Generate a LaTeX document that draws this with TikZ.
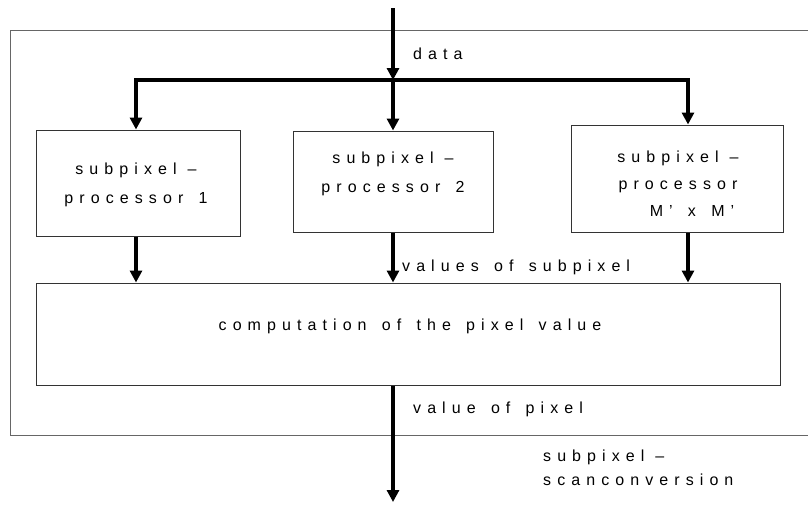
\documentclass[tikz,border=0pt]{standalone}
\usepackage{fontspec}
\setmainfont{Liberation Sans}[LetterSpace=38,WordSpace=1.45]
\usetikzlibrary{arrows.meta}
\newcommand{\dashgap}{\hspace*{11pt}–}
\tikzset{
  box/.style={draw=black!80,line width=1pt,minimum width=#1,inner sep=0pt},
  lbl/.style={align=center,inner sep=0pt,font=\fontsize{16}{29}\selectfont},
  flow/.style={line width=4pt,-{Triangle[length=12pt,width=12pt]}},
  bar/.style={line width=4pt},
  frame/.style={draw=black!60,line width=1pt}
}
\begin{document}
\begin{tikzpicture}[x=1pt,y=-1pt]
  \useasboundingbox (0,0) rectangle (808,509);
  \draw[frame] (808,30) -- (10,30) -- (10,435) -- (808,435);
  \path (138,183) node[box=204pt,minimum height=106pt] (b1) {};
  \path (393,181.5) node[box=200pt,minimum height=101pt] (b2) {};
  \path (677,178.5) node[box=212pt,minimum height=107pt] (b3) {};
  \path (408,334) node[box=744pt,minimum height=102pt] (big) {};
  \path (136,185) node[lbl] (t1) {subpixel\dashgap\\processor 1};
  \path (393,174) node[lbl] (t2) {subpixel\dashgap\\processor 2};
  \path (678,184) node[lbl,font=\fontsize{16}{27}\selectfont] (t3) {subpixel\dashgap\\processor\\\hspace*{28pt}M' x M'};
  \path (410,326) node[lbl] (t4) {computation of the pixel value};
  \coordinate (in) at (393,8);
  \coordinate (j) at (393,80);
  \coordinate (out) at (393,502);
  \draw[flow] (in) -- (j);
  \draw[bar] ([xshift=-2pt]j -| 136,0) -- ([xshift=2pt]j -| 688,0);
  \draw[flow] (j -| 136,0) -- (b1.north -| 136,0);
  \draw[flow] (j) -- (b2.north);
  \draw[flow] (j -| 688,0) -- (b3.north -| 688,0);
  \draw[flow] (b1.south -| 136,0) -- (big.north -| 136,0);
  \draw[flow] (b2.south) -- (b2.south |- big.north);
  \draw[flow] (b3.south -| 688,0) -- (big.north -| 688,0);
  \draw[flow] (big.south -| j) -- (out);
  \path (413,59) node[lbl,anchor=base west] (data) {data};
  \path (402,271) node[lbl,anchor=base west] (vsub) {values of subpixel};
  \path (413,413) node[lbl,anchor=base west] (vpix) {value of pixel};
  \path (543,461) node[lbl,anchor=base west] (sc1) {subpixel\dashgap};
  \path (543,485) node[lbl,anchor=base west] (sc2) {scanconversion};
\end{tikzpicture}
\end{document}
